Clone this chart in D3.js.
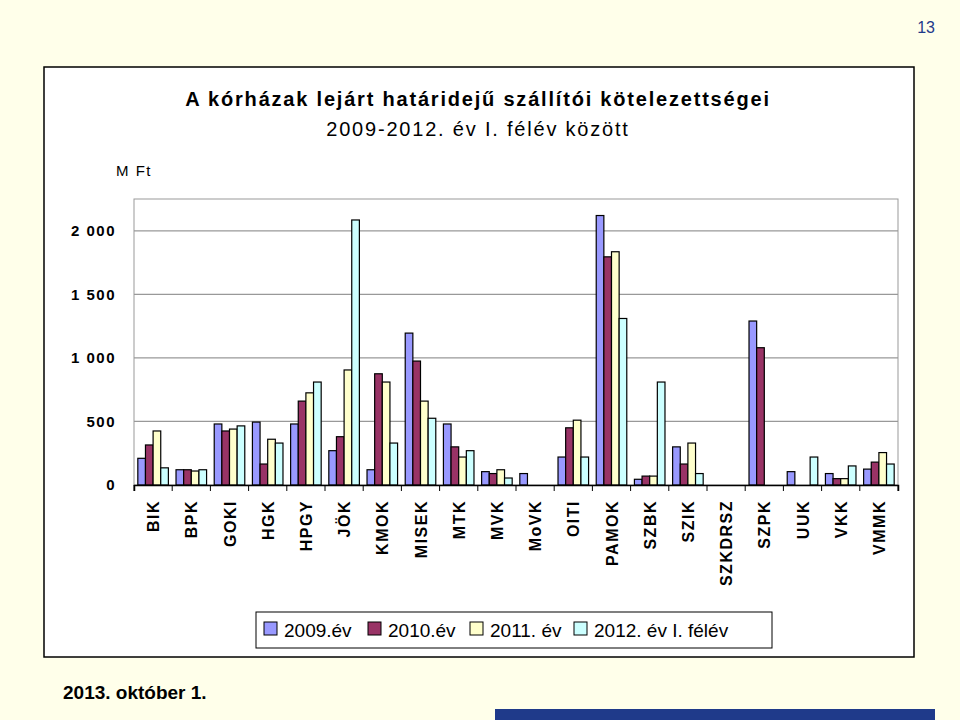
<!DOCTYPE html>
<html><head><meta charset="utf-8">
<script src="https://cdn.jsdelivr.net/npm/d3@7"></script>
<style>body{margin:0;background:#ffffea;font-family:"Liberation Sans",Arial,sans-serif}</style>
</head><body>
<svg id="c" width="960" height="720"></svg>
<script>
"use strict";
var categories = ["BIK","BPK","GOKI","HGK","HPGY","JÖK","KMOK","MISEK","MTK","MVK","MoVK","OITI","PAMOK","SZBK","SZIK","SZKDRSZ","SZPK","UUK","VKK","VMMK"];
var seriesNames = ["2009.év","2010.év","2011. év","2012. év I. félév"];
var v2009 = [210,120,480,495,480,270,120,1195,480,105,90,220,2120,45,300,0,1290,105,90,125];
var v2010 = [315,120,425,165,660,380,875,975,300,90,0,450,1795,70,165,0,1080,0,50,180];
var v2011 = [425,110,440,360,725,905,810,660,220,120,0,510,1835,70,330,0,0,0,50,255];
var v2012 = [135,120,465,330,810,2085,330,525,270,55,0,220,1310,810,90,0,0,220,150,165];
var yTicks = [0,500,1000,1500,2000];
var colors = ["#9999ff","#993366","#ffffcc","#ccffff"];
var series = [v2009,v2010,v2011,v2012];

var svg = d3.select("#c");
var L = 134, R = 898, T = 199, B = 485;

// bottom band and page number
svg.append("rect").attr("x",495).attr("y",709).attr("width",440).attr("height",11).attr("fill","#1f3a8a");
svg.append("text").attr("x",935).attr("y",33).attr("text-anchor","end").attr("font-size",16).attr("fill","#1f3a8a").text("13");
svg.append("text").attr("x",63).attr("y",699).attr("font-size",19).attr("font-weight","bold")
    .text("2013. október 1.");

svg.append("rect").attr("x",44).attr("y",67).attr("width",870).attr("height",590)
    .attr("fill","#fff").attr("stroke","#000").attr("stroke-width",1.5);

svg.append("text").attr("x",478).attr("y",106).attr("text-anchor","middle").attr("font-size",20).attr("font-weight","bold").attr("letter-spacing",1.8)
    .text("A kórházak lejárt határidejű szállítói kötelezettségei");
svg.append("text").attr("x",478).attr("y",136).attr("text-anchor","middle").attr("font-size",20).attr("letter-spacing",1.8)
    .text("2009-2012. év I. félév között");
svg.append("text").attr("x",116).attr("y",176).attr("font-size",15).attr("letter-spacing",1.5).text("M Ft");

var x = d3.scaleBand().domain(categories).range([L,R]).paddingInner(0).paddingOuter(0);
var xs = d3.scaleBand().domain(d3.range(4)).range([0,x.bandwidth()]).paddingInner(0).paddingOuter(0.5);
var y = d3.scaleLinear().domain([0,2250]).range([B,T]);

svg.append("rect").attr("x",L).attr("y",T).attr("width",R-L).attr("height",B-T)
    .attr("fill","none").attr("stroke","#999");
svg.append("g").selectAll("line").data(yTicks.slice(1)).enter().append("line")
    .attr("x1",L).attr("x2",R).attr("y1",function(d){return y(d);}).attr("y2",function(d){return y(d);})
    .attr("stroke","#999").attr("stroke-width",1.2);

series.forEach(function(s,i){
    svg.append("g").selectAll("rect").data(s).enter().append("rect")
        .attr("x",function(d,j){return x(categories[j])+xs(i);})
        .attr("width",xs.bandwidth())
        .attr("y",function(d){return y(d);})
        .attr("height",function(d){return B-y(d);})
        .attr("fill",colors[i]).attr("stroke","#000").attr("stroke-width",1.2)
        .style("display",function(d){return d>0?null:"none";});
});

var ya = svg.append("g").attr("transform","translate("+L+",0)")
    .call(d3.axisLeft(y).tickValues(yTicks).tickSize(0).tickPadding(18)
        .tickFormat(function(d){return d3.format(",")(d).replace(","," ");}));
ya.select(".domain").remove();
ya.selectAll("text").attr("font-size",15).attr("font-weight","bold").attr("letter-spacing",1.5).attr("font-family","Liberation Sans,Arial,sans-serif");

var xa = svg.append("g").attr("transform","translate(0,"+B+")")
    .call(d3.axisBottom(x).tickSize(6).tickFormat(""));
xa.select(".domain").attr("stroke","#000").attr("stroke-width",1.5);
svg.append("line").attr("x1",R).attr("x2",R).attr("y1",B).attr("y2",B+6).attr("stroke","#000");
xa.selectAll(".tick line").attr("transform","translate("+(-x.bandwidth()/2)+",0)").attr("stroke","#000");
svg.append("g").selectAll("text").data(categories).enter().append("text")
    .attr("transform",function(d){return "translate("+(x(d)+x.bandwidth()/2+6)+",500) rotate(-90)";})
    .attr("text-anchor","end").attr("font-size",16).attr("font-weight","bold").attr("letter-spacing",1.5).text(function(d){return d;});

var lg = svg.append("g");
lg.append("rect").attr("x",256).attr("y",612).attr("width",516).attr("height",36).attr("fill","#fff").attr("stroke","#000");
var lx = [264,368,470,574];
seriesNames.forEach(function(n,i){
    lg.append("rect").attr("x",lx[i]).attr("y",622).attr("width",13).attr("height",13).attr("fill",colors[i]).attr("stroke","#000");
    lg.append("text").attr("x",lx[i]+20).attr("y",637).attr("font-size",19).text(n);
});
</script>
</body></html>
